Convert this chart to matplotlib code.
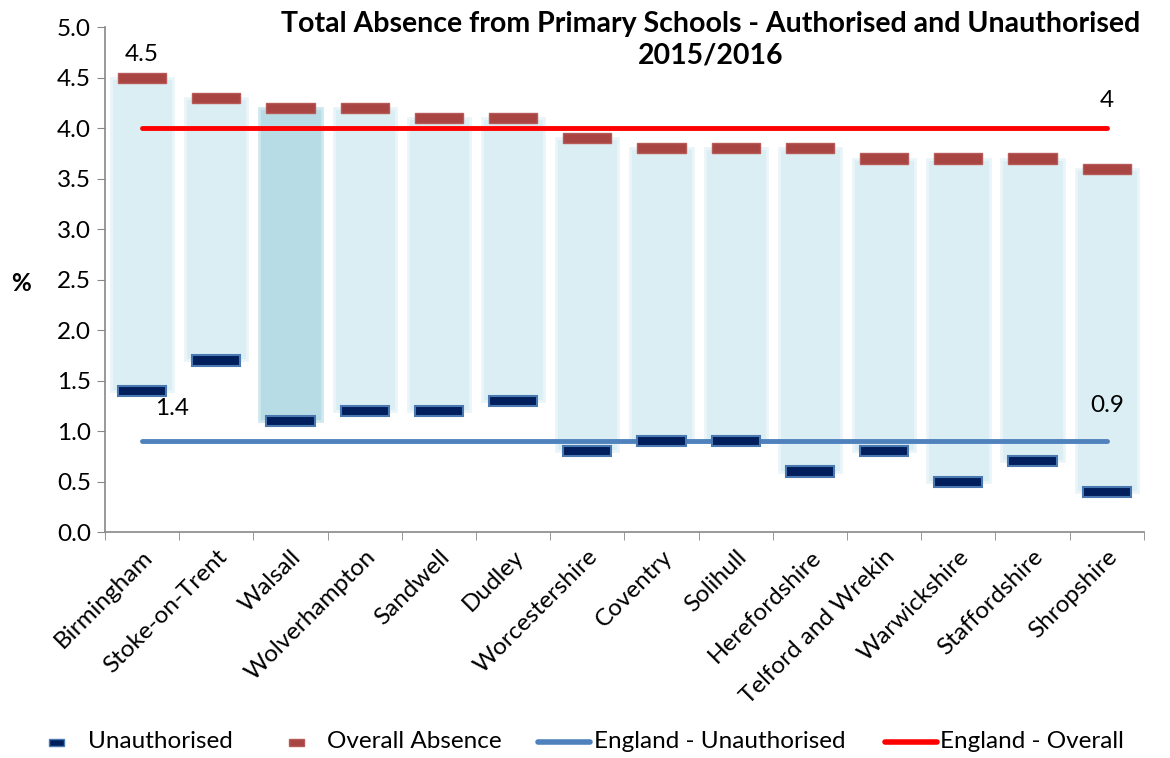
import matplotlib
matplotlib.use("Agg")
import matplotlib.pyplot as plt
from matplotlib.lines import Line2D
from matplotlib.patches import Rectangle

plt.rcParams['font.family'] = ['Lato', 'DejaVu Sans']

areas = ["Birmingham", "Stoke-on-Trent", "Walsall", "Wolverhampton", "Sandwell",
         "Dudley", "Worcestershire", "Coventry", "Solihull", "Herefordshire",
         "Telford and Wrekin", "Warwickshire", "Staffordshire", "Shropshire"]
overall = [4.5, 4.3, 4.2, 4.2, 4.1, 4.1, 3.9, 3.8, 3.8, 3.8, 3.7, 3.7, 3.7, 3.6]
unauthorised = [1.4, 1.7, 1.1, 1.2, 1.2, 1.3, 0.8, 0.9, 0.9, 0.6, 0.8, 0.5, 0.7, 0.4]
england_overall = 4.0
england_unauth = 0.9

FS = 17.5

fig = plt.figure(figsize=(11.7, 7.58), dpi=100)
ax = fig.add_axes([0.0897, 0.298, 0.888, 0.666])

x = list(range(len(areas)))

# floating bars between unauthorised and overall
for i in x:
    if areas[i] == "Walsall":
        fc, ec = "#b8dce6", "#cfe8ef"
    else:
        fc, ec = "#dbeef4", "#eaf5f9"
    ax.bar(i, overall[i] - unauthorised[i], bottom=unauthorised[i], width=0.84,
           color=fc, edgecolor=ec, linewidth=2, zorder=1)

# markers
mh = 0.1
ax.bar(x, [mh] * len(x), bottom=[v - mh / 2 for v in overall], width=0.65,
       color="#a84442", edgecolor="#b85a58", linewidth=1, zorder=3)
ax.bar(x, [mh] * len(x), bottom=[v - mh / 2 for v in unauthorised], width=0.65,
       color="#001f5c", edgecolor="#4a78b0", linewidth=1.5, zorder=3)

# England lines
ax.plot([x[0], x[-1]], [england_overall] * 2, color="#ff0000", lw=3.5,
        solid_capstyle="round", zorder=2)
ax.plot([x[0], x[-1]], [england_unauth] * 2, color="#4f81bd", lw=3.5,
        solid_capstyle="round", zorder=2)

ax.text(x[0], overall[0] + 0.13, "4.5", ha="center", va="bottom", fontsize=FS)
ax.text(x[0] + 0.4, unauthorised[0] - 0.18, "1.4", ha="center", va="center", fontsize=FS)
ax.text(x[-1], england_overall + 0.27, "4", ha="center", va="center", fontsize=FS)
ax.text(x[-1], england_unauth + 0.35, "0.9", ha="center", va="center", fontsize=FS)

ax.set_xlim(-0.5, len(areas) - 0.5)
ax.set_ylim(0, 5)
ax.set_yticks([i * 0.5 for i in range(11)])
ax.set_yticklabels(["%.1f" % (i * 0.5) for i in range(11)], fontsize=FS)
ax.set_xticks(x)
ax.set_xticklabels(areas, rotation=45, ha="right", rotation_mode="anchor", fontsize=FS)
ax.set_xticks([i - 0.5 for i in range(len(areas) + 1)], minor=True)
ax.tick_params(axis="x", which="major", length=0, pad=10)
ax.tick_params(axis="x", which="minor", length=6, color="#888888")
ax.tick_params(axis="y", length=6, color="#888888", pad=4)
for s in ["top", "right"]:
    ax.spines[s].set_visible(False)
for s in ["left", "bottom"]:
    ax.spines[s].set_color("#888888")
    ax.spines[s].set_linewidth(1.2)

ax.text(-0.081, 0.493, "%", transform=ax.transAxes, ha="center", va="center",
        fontsize=FS, fontweight="bold")

fig.text(0.607, 0.985, "Total Absence from Primary Schools - Authorised and Unauthorised\n2015/2016",
         ha="center", va="top", fontsize=20.5, fontweight="bold", linespacing=1.25)

# legend drawn in figure pixels
H, W = 758, 1170
ly = 1 - 742 / H
fig.patches.append(Rectangle((49 / W, ly - 4 / H), 15 / W, 7 / H, transform=fig.transFigure,
                             facecolor="#001f5c", edgecolor="#4a78b0", lw=1))
fig.text(88 / W, ly, "Unauthorised", ha="left", va="center", fontsize=FS)
fig.patches.append(Rectangle((289 / W, ly - 4 / H), 15 / W, 7 / H, transform=fig.transFigure,
                             facecolor="#a84442", edgecolor="#b85a58", lw=1))
fig.text(327 / W, ly, "Overall Absence", ha="left", va="center", fontsize=FS)
fig.lines.append(Line2D([538 / W, 590 / W], [ly, ly], transform=fig.transFigure,
                        color="#4f81bd", lw=4, solid_capstyle="round"))
fig.text(594 / W, ly, "England - Unauthorised", ha="left", va="center", fontsize=FS)
fig.lines.append(Line2D([885 / W, 937 / W], [ly, ly], transform=fig.transFigure,
                        color="#ff0000", lw=4, solid_capstyle="round"))
fig.text(940 / W, ly, "England - Overall", ha="left", va="center", fontsize=FS)

fig.savefig("out.png", dpi=100)
